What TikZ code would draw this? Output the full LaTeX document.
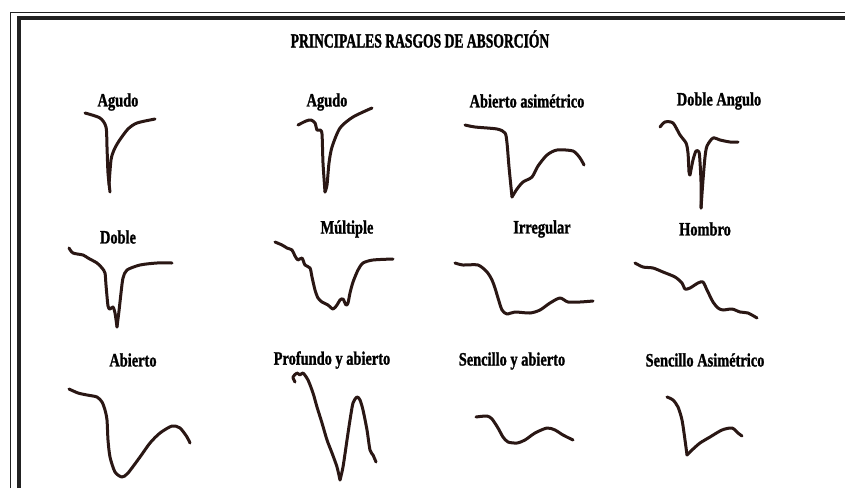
\documentclass[tikz,border=0pt]{standalone}
\usepackage{fontspec}
\setmainfont{Liberation Serif}
\newfontfamily\titlefont[FakeStretch=0.8, BoldFeatures={FakeBold=1.6}]{Liberation Serif}
\newfontfamily\labelfont[FakeStretch=0.9, BoldFeatures={FakeBold=1.4}]{Liberation Serif}
\newcommand{\tallbox}[1]{\scalebox{1}[1.18]{#1}}
\definecolor{ink}{HTML}{2A1714}
\definecolor{frameink}{HTML}{222222}
\tikzset{
  lbl/.style={font=\labelfont\bfseries\fontsize{16}{16}\selectfont, inner sep=0pt, text=black},
  ttl/.style={font=\titlefont\bfseries\fontsize{17}{17}\selectfont, inner sep=0pt, text=black},
  curve/.style={draw=ink, line width=3pt, line cap=round, line join=round},
}
\begin{document}
\begin{tikzpicture}[x=1pt, y=-1pt]
\useasboundingbox (0,0) rectangle (845,488);
\fill[white] (0,0) rectangle (845,488);
% frame
\draw[frameink, line width=1pt] (10,488) -- (10,12.5) -- (845,12.5);
\draw[frameink, line width=3.5pt] (19,488) -- (19,18) -- (845,18);

% title
\node[ttl] (title) at (420,39) {\tallbox{PRINCIPALES RASGOS DE ABSORCIÓN}};

% row 1
\node[lbl] (l1) at (118,102) {\tallbox{Agudo}};
\node[lbl] (l2) at (327,102) {\tallbox{Agudo}};
\node[lbl] (l3) at (527,101) {\tallbox{Abierto asimétrico}};
\node[lbl] (l4) at (719,101) {\tallbox{Doble Angulo}};
% row 2
\node[lbl] (l5) at (118,237) {\tallbox{Doble}};
\node[lbl] (l6) at (347,229) {\tallbox{Múltiple}};
\node[lbl] (l7) at (542,229) {\tallbox{Irregular}};
\node[lbl] (l8) at (705,229) {\tallbox{Hombro}};
% row 3
\node[lbl] (l9) at (133,360) {\tallbox{Abierto}};
\node[lbl] (l10) at (332,360) {\tallbox{Profundo y abierto}};
\node[lbl] (l11) at (512,361) {\tallbox{Sencillo y abierto}};
\node[lbl] (l12) at (705,360) {\tallbox{Sencillo Asimétrico}};

% curves
% Agudo 1
\draw[curve] plot[smooth, tension=0.45] coordinates {(85,113) (100,118) (106,127) (107,147) (108,173) (110,192)};
\draw[curve] plot[smooth, tension=0.45] coordinates {(109,185) (111,160) (114,150) (119,141) (128,129) (137,123) (155,119)};
% Agudo 2
\draw[curve] plot[smooth, tension=0.45] coordinates {(298,125) (306,121) (311,120) (315,123) (317,130) (320,130) (322,134) (323,163) (325,192)};
\draw[curve] plot[smooth, tension=0.45] coordinates {(325,192) (327,185) (329,163) (332,147) (340,128) (353,117) (372,108)};
% Abierto asimetrico
\draw[curve] plot[smooth, tension=0.45] coordinates {(465,125) (475,127) (497,129) (505,133) (507,143) (509,167) (512,197)};
\draw[curve] plot[smooth, tension=0.45] coordinates {(512,197) (517,189) (523,182) (532,177) (538,166) (547,155) (557,150) (573,151) (580,158) (584,165)};
% Doble Angulo
\draw[curve] plot[smooth, tension=0.45] coordinates {(660,127) (665,122) (673,123) (680,135) (686,143) (688,153) (689,172) (690,175)};
\draw[curve] plot[smooth, tension=0.45] coordinates {(690,175) (693,160) (696,151) (699,152) (700,162) (701,182) (701,208)};
\draw[curve] plot[smooth, tension=0.45] coordinates {(701,208) (703,180) (705,157) (707,146) (713,138) (720,140) (730,142) (738,142)};
% Doble
\draw[curve] plot[smooth, tension=0.45] coordinates {(69,248) (73,253) (83,255) (88,258) (97,263) (102,268) (105,273) (106,285) (108,306) (110,309) (113,307) (115,313) (117,327)};
\draw[curve] plot[smooth, tension=0.45] coordinates {(117,327) (119,311) (121,293) (123,278) (127,270) (140,265) (157,263) (172,263)};
% Multiple
\draw[curve] plot[smooth, tension=0.45] coordinates {(275,242) (282,245) (287,248) (292,250) (295,256) (298,260) (302,258) (305,265) (310,268) (312,277) (315,290) (318,298) (322,302) (328,305) (333,309) (337,305) (340,300) (343,299) (346,305) (348,303) (350,293) (353,282) (358,270) (363,263) (373,260) (393,259)};
% Irregular
\draw[curve] plot[smooth, tension=0.45] coordinates {(455,263) (463,265) (478,265) (487,272) (492,280) (495,288) (498,298) (502,310) (507,314) (515,312) (530,313) (540,310) (550,303) (560,298) (568,302) (580,302) (593,301)};
% Hombro
\draw[curve] plot[smooth, tension=0.45] coordinates {(635,263) (643,267) (653,268) (663,272) (675,277) (682,283) (685,289) (690,288) (698,283) (703,282) (707,290) (713,302) (718,308) (723,310) (732,309) (740,312) (748,313) (757,318)};
% Abierto
\draw[curve] plot[smooth, tension=0.45] coordinates {(69,389) (78,393) (87,395) (97,397) (102,402) (105,410) (107,420) (108,440) (110,457) (115,472) (122,477) (128,473) (140,457) (150,443) (160,433) (172,426) (180,428) (187,437) (190,443)};
% Profundo y abierto
\draw[curve] plot[smooth, tension=0.45] coordinates {(295,382) (293,377) (297,373) (300,375) (303,373) (308,380) (313,393) (317,407) (322,423) (327,440) (332,453) (337,467) (340,480)};
\draw[curve] plot[smooth, tension=0.45] coordinates {(340,480) (343,467) (347,440) (350,420) (353,403) (357,397) (360,400) (363,410) (367,430) (370,450) (373,455) (376,462)};
% Sencillo y abierto
\draw[curve] plot[smooth, tension=0.45] coordinates {(476,417) (487,416) (492,419) (498,428) (503,437) (508,442) (517,443) (525,440) (535,433) (547,428) (555,430) (563,435) (573,440)};
% Sencillo asimetrico
\draw[curve] plot[smooth, tension=0.45] coordinates {(667,397) (673,400) (678,407) (682,420) (685,440) (687,455)};
\draw[curve] plot[smooth, tension=0.45] coordinates {(687,455) (692,450) (700,443) (710,437) (722,430) (732,428) (738,433) (742,436)};
\end{tikzpicture}
\end{document}
